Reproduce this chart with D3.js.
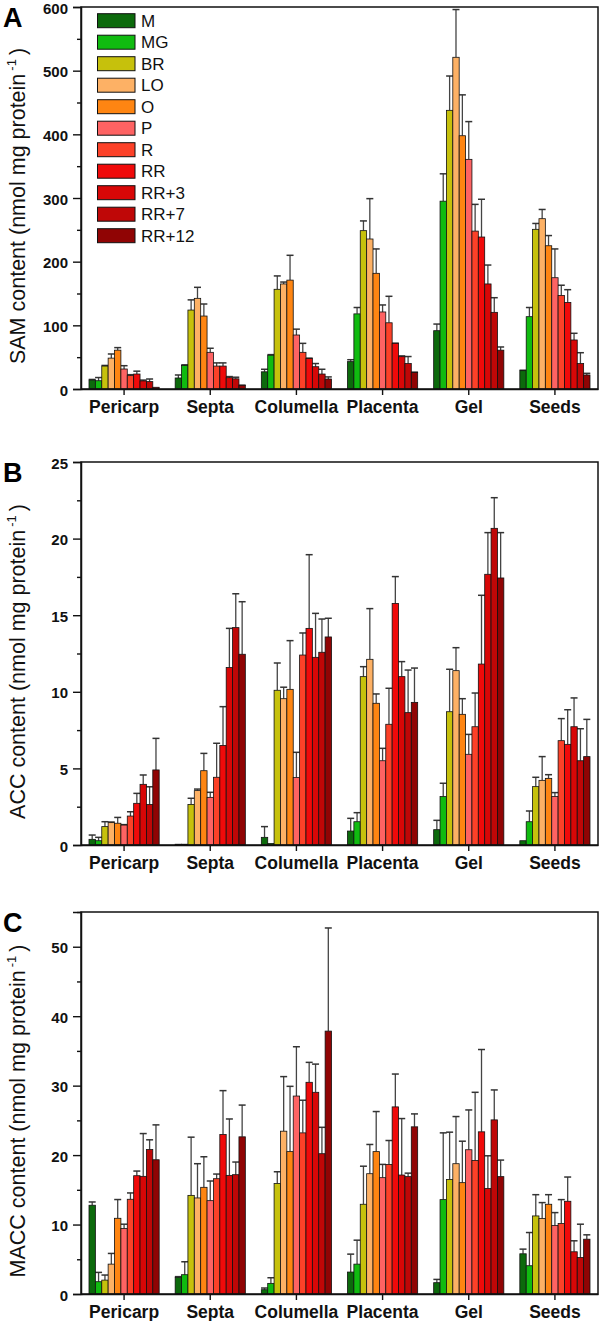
<!DOCTYPE html>
<html>
<head>
<meta charset="utf-8">
<script src="https://cdn.jsdelivr.net/npm/d3@7"></script>
<style>
  html, body { margin: 0; padding: 0; background: #fff; }
  svg { display: block; font-family: "Liberation Sans", Arial, sans-serif; }
</style>
</head>
<body>
<svg id="chart" width="600" height="1321"></svg>
<script>
// ---- data ----
const categories = ["Pericarp", "Septa", "Columella", "Placenta", "Gel", "Seeds"];
const stages = ["M", "MG", "BR", "LO", "O", "P", "R", "RR", "RR+3", "RR+7", "RR+12"];
const stageColors = ["#0c6a0c", "#10bb10", "#c6c10c", "#fdb165", "#fe8512", "#fe6363",
                     "#fc4128", "#f00a0a", "#d80707", "#bf0707", "#900404"];

// SAM (nmol mg protein-1): mean per category (rows) x stage (cols)
const samMean = [
  [14, 13, 36, 48.5, 61, 31.4, 21, 23.5, 12.7, 11.6, 2.7],
  [17.3, 37, 124, 142.4, 114.6, 57.6, 36, 36, 17.8, 16, 5.8],
  [27, 53, 156.6, 165, 171, 84.8, 57.6, 48, 35, 23.5, 15.7],
  [43, 118, 248.7, 235.6, 181.7, 121, 104, 71.7, 50.8, 40, 26],
  [91.6, 295, 437.7, 521, 397.8, 360.7, 248, 238.7, 165, 120.4, 61],
  [28.8, 113.6, 250.8, 267.5, 225, 174.8, 147, 136, 77, 40, 22]
];
const samSd = [
  [1, 5, 1, 6.5, 4, 5.2, 1.5, 4.5, 1.3, 4.1, 0],
  [4.7, 1, 16, 17.3, 18.9, 6.4, 5, 5, 1.7, 2.5, 0.2],
  [4, 1, 21, 3, 39, 9.2, 14.1, 0.5, 5, 7.5, 3.3],
  [3, 10, 15.3, 63.4, 38.3, 11, 41.6, 0.3, 1.2, 11, 0.5],
  [10.4, 43, 53.9, 75, 64.2, 59.3, 42, 59.3, 29.7, 23, 5],
  [0.7, 14.4, 9.2, 14.5, 16, 45.2, 16, 20, 10.5, 17, 2.6]
];

// ACC
const accMean = [
  [0.37, 0.28, 1.2, 1.46, 1.42, 1.3, 1.89, 2.72, 3.96, 2.65, 4.9],
  [0.05, 0.05, 2.65, 3.55, 4.85, 3.11, 4.42, 6.5, 11.58, 14.19, 12.45],
  [0.5, 0.1, 10.1, 9.55, 10.16, 4.4, 12.4, 14.14, 12.25, 12.58, 13.58],
  [0.91, 1.52, 10.99, 12.12, 9.25, 5.5, 7.88, 15.77, 10.99, 8.64, 9.31],
  [1.0, 3.16, 8.7, 11.38, 8.53, 5.92, 7.72, 11.81, 17.67, 20.67, 17.43],
  [0.28, 1.52, 3.81, 4.22, 4.35, 3.16, 6.81, 6.57, 7.72, 5.5, 5.77]
];
const accSd = [
  [0.28, 0.22, 0.32, 0.04, 0.38, 0.03, 0.28, 0.65, 0.61, 1.15, 2.06],
  [0, 0, 0.4, 0.1, 1.13, 0.33, 2.22, 2.53, 2.56, 2.21, 3.43],
  [0.7, 0, 1.78, 0.75, 3.18, 1.65, 1.44, 4.81, 2.87, 2.17, 1.22],
  [0.83, 0.59, 0.65, 3.31, 0.61, 0.81, 2.35, 1.75, 0.98, 2.78, 2.24],
  [0.61, 0.87, 2.77, 1.5, 1.02, 1.3, 2.2, 4.49, 2.72, 2.0, 2.96],
  [0, 0.7, 0.61, 1.55, 0.24, 0.26, 1.44, 2.26, 1.88, 2.09, 2.43]
];

// MACC
const maccMean = [
  [12.78, 1.77, 2.0, 4.3, 10.9, 9.43, 13.64, 17.03, 16.94, 20.8, 19.33],
  [2.4, 2.78, 14.2, 13.83, 15.36, 13.44, 16.6, 22.97, 17.08, 17.18, 22.63],
  [0.62, 1.53, 15.9, 23.44, 20.5, 28.5, 23.2, 30.48, 29.04, 20.2, 37.85],
  [3.16, 4.3, 12.92, 17.32, 20.5, 16.75, 18.66, 26.94, 17.13, 16.9, 24.07],
  [1.63, 13.59, 16.5, 18.76, 16.03, 20.77, 19.23, 23.35, 15.2, 25.07, 16.9],
  [5.79, 4.07, 11.24, 10.86, 12.92, 9.86, 10.14, 13.35, 6.08, 5.26, 7.89]
];
const maccSd = [
  [0.47, 1.34, 0.73, 1.54, 2.7, 0.62, 0.91, 0.67, 6.16, 1.4, 5.02],
  [0.1, 1.86, 8.38, 4.93, 4.4, 2.83, 0.67, 6.31, 8.12, 1.82, 4.57],
  [0.24, 0.81, 1.7, 7.86, 9.4, 7.1, 4.7, 2.87, 4.06, 3.8, 14.85],
  [2.58, 3.45, 5.48, 4.21, 5.77, 1.91, 3.44, 4.73, 8.13, 0.5, 1.86],
  [0.47, 9.61, 6.8, 6.79, 5.97, 5.73, 9.81, 11.85, 4.7, 4.31, 2.38],
  [0.67, 4.78, 3.06, 2.3, 1.38, 1.86, 3.45, 3.49, 1.58, 4.79, 0.63]
];

const samTicks = [0, 100, 200, 300, 400, 500, 600];
const accTicks = [0, 5, 10, 15, 20, 25];
const maccTicks = [0, 10, 20, 30, 40, 50];

// ---- drawing ----
const svg = d3.select("#chart");
const left = 81, right = 598;

const panels = [
  { letter: "A", metab: "SAM", mean: samMean, sd: samSd, ticks: samTicks, max: 600, minor: 50,
    top: 7, bottom: 389, legend: true },
  { letter: "B", metab: "ACC", mean: accMean, sd: accSd, ticks: accTicks, max: 25, minor: 2.5,
    top: 462, bottom: 845, legend: false },
  { letter: "C", metab: "MACC", mean: maccMean, sd: maccSd, ticks: maccTicks, max: 55, minor: 5,
    top: 912, bottom: 1294, legend: false }
];

const x0 = d3.scaleBand().domain(categories).range([left, right]).padding(0);
const x1 = d3.scaleBand().domain(stages).range([8, x0.bandwidth() - 8]).padding(0);
const color = d3.scaleOrdinal().domain(stages).range(stageColors);

panels.forEach(p => {
  const y = d3.scaleLinear().domain([0, p.max]).range([p.bottom, p.top]);
  const g = svg.append("g");

  const rows = [];
  categories.forEach((c, ci) => stages.forEach((s, si) => {
    rows.push({ c, s, v: p.mean[ci][si], e: p.sd[ci][si] });
  }));

  // error bars (behind bars)
  const eb = g.append("g");
  rows.forEach(d => {
    if (d.e <= 0) return;
    const cx = x0(d.c) + x1(d.s) + x1.bandwidth() / 2;
    eb.append("line").attr("x1", cx).attr("x2", cx)
      .attr("y1", y(d.v)).attr("y2", y(d.v + d.e))
      .attr("stroke", "#444").attr("stroke-width", 1.3);
    eb.append("line").attr("x1", cx - 3.5).attr("x2", cx + 3.5)
      .attr("y1", y(d.v + d.e)).attr("y2", y(d.v + d.e))
      .attr("stroke", "#333").attr("stroke-width", 1.5);
  });

  g.append("g").selectAll("rect").data(rows).join("rect")
    .attr("x", d => x0(d.c) + x1(d.s))
    .attr("width", x1.bandwidth())
    .attr("y", d => y(d.v))
    .attr("height", d => y(0) - y(d.v))
    .attr("fill", d => color(d.s))
    .attr("stroke", "#111").attr("stroke-width", 0.8);

  // frame
  g.append("rect").attr("x", left).attr("y", p.top)
    .attr("width", right - left).attr("height", p.bottom - p.top)
    .attr("fill", "none").attr("stroke", "#111").attr("stroke-width", 1.5);

  // y axis
  const yAxis = d3.axisLeft(y).tickValues(p.ticks).tickSize(8).tickPadding(5).tickFormat(d3.format("d"));
  const ya = g.append("g").attr("transform", `translate(${left},0)`).call(yAxis);
  ya.select(".domain").attr("stroke", "#111").attr("stroke-width", 1.5);
  ya.selectAll(".tick line").attr("stroke", "#111").attr("stroke-width", 1.4);
  ya.selectAll(".tick text").attr("font-size", 15).attr("font-weight", "bold").attr("dy", "0.4em")
    .attr("fill", "#111").attr("font-family", "Liberation Sans, Arial, sans-serif");
  const minorVals = d3.range(p.minor, p.max + 0.001, p.minor * 2);
  const yMinor = d3.axisLeft(y).tickValues(minorVals).tickSize(4).tickFormat("");
  const ym = g.append("g").attr("transform", `translate(${left},0)`).call(yMinor);
  ym.select(".domain").remove();
  ym.selectAll(".tick line").attr("stroke", "#111").attr("stroke-width", 1.4);

  // x axis
  const xAxis = d3.axisBottom(x0).tickSize(6).tickPadding(6).tickSizeOuter(0);
  const xa = g.append("g").attr("transform", `translate(0,${p.bottom})`).call(xAxis);
  xa.select(".domain").attr("stroke", "#111").attr("stroke-width", 1.5);
  xa.selectAll(".tick line").attr("stroke", "#111").attr("stroke-width", 1.4);
  xa.selectAll(".tick text").attr("font-size", 17.5).attr("font-weight", "bold")
    .attr("fill", "#111").attr("font-family", "Liberation Sans, Arial, sans-serif");

  // panel letter
  svg.append("text").attr("x", 3).attr("y", p.top + 20)
    .attr("font-size", 27).attr("font-weight", "bold").attr("fill", "#000").text(p.letter);

  // y title
  const cy = (p.top + p.bottom) / 2 + 8;
  const t = svg.append("text").attr("transform", `translate(25,${cy}) rotate(-90)`)
    .attr("text-anchor", "middle").attr("font-size", 21.5).attr("fill", "#111");
  t.append("tspan").text(p.metab + " content (nmol mg protein");
  t.append("tspan").attr("font-size", 13).attr("dy", -9).attr("dx", 3).text("-1");
  t.append("tspan").attr("dy", 9).attr("dx", 4).text(")");

  // legend
  if (p.legend) {
    const lg = svg.append("g");
    stages.forEach((s, i) => {
      const cyL = 20.7 + i * 21.5;
      lg.append("rect").attr("x", 97.5).attr("y", cyL - 7).attr("width", 37.5).attr("height", 14)
        .attr("fill", color(s)).attr("stroke", "#111").attr("stroke-width", 1);
      lg.append("text").attr("x", 141).attr("y", cyL + 6).attr("font-size", 17).attr("fill", "#111").text(s);
    });
  }
});
</script>
</body>
</html>
